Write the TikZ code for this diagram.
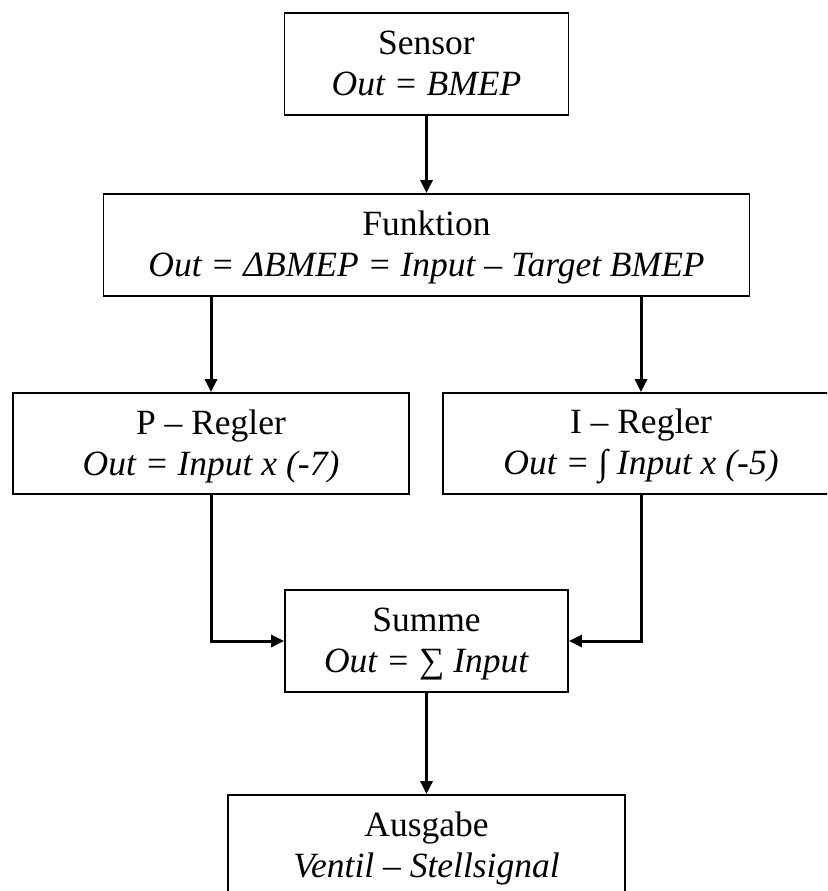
\documentclass[tikz,border=0pt]{standalone}
\usepackage{fontspec}
\setmainfont{Liberation Serif}
\usetikzlibrary{arrows.meta}
\newcommand{\lnstrut}{\rule[-9.5pt]{0pt}{41pt}}
\begin{document}
\begin{tikzpicture}[x=1pt,y=-1pt,
  box/.style={draw, line width=1.8pt, rectangle, inner sep=0pt, align=center,
    font=\fontsize{35.5}{41}\selectfont},
  conn/.style={line width=3pt, -{Triangle[length=13pt,width=12pt]}},
]
\clip (0,0) rectangle (827,891);
\node[box, minimum width=284pt, minimum height=102pt] (sensor) at (426.5,64)
  {\lnstrut Sensor\\\lnstrut\textit{Out = BMEP}};
\node[box, minimum width=646pt, minimum height=102pt] (funktion) at (426.5,245)
  {\lnstrut Funktion\\\lnstrut\textit{Out = ΔBMEP = Input – Target BMEP}};
\node[box, minimum width=396pt, minimum height=101pt] (preg) at (211,443.5)
  {\lnstrut P – Regler\\\lnstrut\textit{Out = Input x (-7)}};
\node[box, minimum width=396pt, minimum height=101pt] (ireg) at (641,443.5)
  {\lnstrut I – Regler\\\lnstrut\textit{Out = {\upshape ∫} Input x (-5)}};
\node[box, minimum width=283pt, minimum height=102pt] (summe) at (426.5,641)
  {\lnstrut Summe\\\lnstrut\textit{Out = {\upshape ∑} Input}};
\node[box, minimum width=397pt, minimum height=102pt] (ausgabe) at (426.5,846)
  {\lnstrut Ausgabe\\\lnstrut\textit{Ventil – Stellsignal}};
\draw[conn] (sensor.south) -- (funktion.north);
\draw[conn] (funktion.south -| preg.north) -- (preg.north);
\draw[conn] (funktion.south -| ireg.north) -- (ireg.north);
\draw[conn] (preg.south) |- (summe.west);
\draw[conn] (ireg.south) |- (summe.east);
\draw[conn] (summe.south) -- (ausgabe.north);
\end{tikzpicture}
\end{document}
